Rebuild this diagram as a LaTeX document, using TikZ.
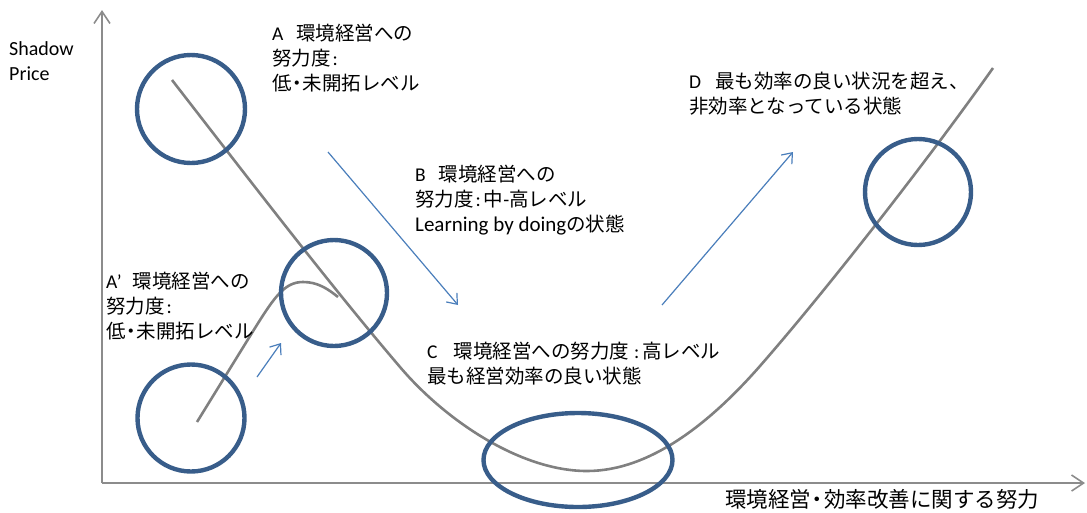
\documentclass[tikz,border=0pt]{standalone}
\usepackage{fontspec}
\setmainfont{Noto Sans CJK JP}
\newfontfamily\lat{Carlito}
\usetikzlibrary{arrows.meta,shapes.geometric}
\definecolor{ringblue}{HTML}{385D8A}
\definecolor{arrblue}{HTML}{4A7EBB}
\definecolor{curvegray}{HTML}{808080}
\definecolor{axisgray}{HTML}{8C8C8C}
\newcommand{\colonsp}{\hspace{2pt}{\lat :}\hspace{3pt}}
\newcommand{\narrowdot}[1]{\makebox[#1][c]{・}}
\begin{document}
\begin{tikzpicture}[x=1pt,y=-1pt,
  ring/.style={draw=ringblue, line width=4.4pt, circle, inner sep=0pt, minimum size=#1},
  ringell/.style={draw=ringblue, line width=4.4pt, ellipse, inner sep=0pt},
  axisline/.style={draw=axisgray, line width=1.6pt, -{Straight Barb[length=12pt,width=16pt]}},
  flow/.style={draw=arrblue, line width=1.2pt, -{Straight Barb[length=9pt,width=14pt]}},
  curveline/.style={draw=curvegray, line width=2.6pt},
  lbl/.style={anchor=north west, inner sep=0pt, align=left, font=\fontsize{19.5}{25}\selectfont},
  latlbl/.style={anchor=north west, inner sep=0pt, align=left, font=\lat\fontsize{20}{25}\selectfont}]
\useasboundingbox (0,0) rectangle (1087,512);

% axes
\coordinate (O) at (102,483);
\coordinate (ytip) at (102,10);
\coordinate (xtip) at (1085,483);
\draw[axisline] (O) -- (ytip);
\draw[axisline] (O) -- (xtip);

% main curve
\coordinate (m0) at (172,80);
\coordinate (m1) at (400,367);
\coordinate (m2) at (587,471);
\coordinate (m3) at (760,366);
\coordinate (m4) at (993,68);
\draw[curveline] (m0) .. controls (248,178) and (330,285) .. (m1)
  .. controls (445,420) and (520,471) .. (m2)
  .. controls (650,471) and (710,423) .. (m3)
  .. controls (830,286) and (933,153) .. (m4);

% A' curve
\coordinate (p0) at (197,422);
\coordinate (p1) at (255,328);
\coordinate (p2) at (303,282);
\coordinate (p3) at (338,297);
\draw[curveline] (p0) -- (p1) .. controls (275,296) and (285,282) .. (p2)
  .. controls (318,282) and (328,289) .. (p3);

% rings
\node[ring=108pt] (rA) at (191,109) {};
\node[ring=107pt] (rAp) at (191,418) {};
\node[ring=106pt] (rB) at (334,293) {};
\node[ring=106pt] (rD) at (918,192) {};
\node[ringell, minimum width=189pt, minimum height=94pt] (rC) at (578,460) {};

% flow arrows
\coordinate (f1s) at (257,377);
\coordinate (f1e) at (281,343);
\coordinate (f2s) at (328,152);
\coordinate (f2e) at (458,305);
\coordinate (f3s) at (662,305);
\coordinate (f3e) at (793,152);
\draw[flow] (f1s) -- (f1e);
\draw[flow] (f2s) -- (f2e);
\draw[flow] (f3s) -- (f3e);

% labels
\node[latlbl] (ylab) at (9,41) {Shadow\\Price};
\node[lbl] (labA) at (272,24) {{\lat A}\hspace{13pt}環境経営への\\努力度\colonsp\\低\narrowdot{11pt}未開拓レベル};
\node[lbl] (labAp) at (106,272) {{\lat A’}\hspace{11pt}環境経営への\\努力度\colonsp\\低\narrowdot{11pt}未開拓レベル};
\node[lbl] (labB) at (415,165) {{\lat B}\hspace{13pt}環境経営への\\努力度\colonsp 中{\lat -}高レベル\\{\lat\fontsize{21}{25}\selectfont Learning by doing}の状態};
\node[lbl] (labC) at (427,342) {{\lat C}\hspace{16pt}環境経営への努力度\hspace{3pt}\colonsp 高レベル\\最も経営効率の良い状態};
\node[lbl] (labD) at (689,72) {{\lat D}\hspace{14pt}最も効率の良い状況を超え、\\非効率となっている状態};
\node[lbl, font=\fontsize{21.5}{25}\selectfont] (xlab) at (725,489) {環境経営\narrowdot{13pt}効率改善に関する努力};
\end{tikzpicture}
\end{document}
